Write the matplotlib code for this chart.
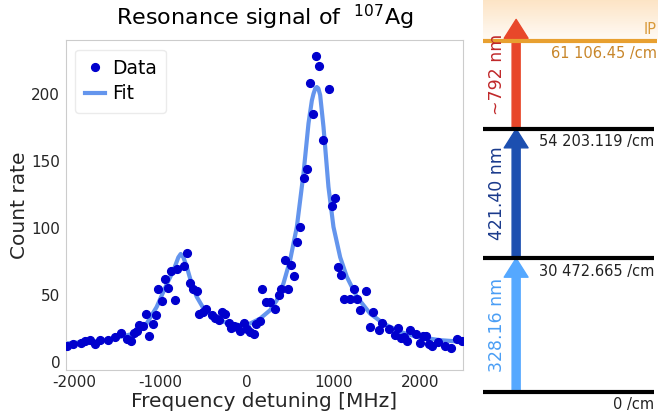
import numpy as np
import matplotlib.pyplot as plt

plt.rcParams['axes.unicode_minus'] = False

# measured resonance data (frequency detuning in MHz, counts)
freq = [-2082, -2012, -1928, -1878, -1820, -1762, -1704, -1608, -1530, -1461,
        -1388, -1347, -1309, -1270, -1247, -1208, -1170, -1131, -1093, -1054,
        -1027, -985, -950, -915, -876, -834, -807, -730, -691, -656,
        -621, -583, -552, -513, -475, -409, -370, -320, -293, -254,
        -215, -184, -149, -118, -80, -41, -2, 37, 75, 106,
        145, 176, 222, 269, 327, 365, 396, 435, 470, 508,
        539, 578, 616, 655, 693, 724, 763, 801, 836, 875,
        944, 983, 1014, 1052, 1091, 1118, 1195, 1234, 1272, 1311,
        1380, 1419, 1454, 1523, 1562, 1639, 1709, 1744, 1782, 1821,
        1852, 1890, 1960, 1998, 2037, 2075, 2102, 2141, 2211, 2288,
        2362, 2431, 2489]
counts = [11.7, 13.2, 14.4, 15.4, 16.2, 13.2, 16.2, 16.2, 18.4, 21.9,
          16.7, 15.4, 21.9, 23.1, 27.4, 26.9, 36.0, 19.4, 28.4, 35.3,
          54.2, 45.3, 61.7, 55.0, 67.9, 46.3, 69.4, 71.4, 81.3, 59.2,
          54.7, 52.7, 36.0, 37.3, 39.6, 34.6, 33.1, 31.1, 37.1, 35.6,
          29.1, 25.1, 27.1, 26.1, 22.9, 29.1, 24.6, 22.6, 20.6, 28.6,
          30.3, 54.0, 44.3, 44.3, 39.6, 50.0, 54.2, 75.9, 54.5, 72.1,
          63.9, 89.6, 100.7, 136.8, 143.8, 208.2, 184.8, 228.4, 220.6, 165.4,
          203.2, 116.2, 122.6, 70.9, 64.9, 47.0, 47.0, 54.0, 47.0, 39.0,
          53.0, 26.1, 37.1, 24.1, 29.1, 24.9, 19.7, 25.1, 17.9, 18.2,
          15.4, 24.1, 21.1, 14.4, 19.2, 19.2, 13.2, 11.7, 14.9, 11.9,
          10.7, 16.7, 15.4]

# fit curve
fit_freq = [-2100, -1626, -1317, -1163, -1047, -931, -854, -796, -769, -738,
            -699, -641, -583, -506, -390, -236, -81, 35, 151, 267,
            344, 421, 498, 576, 653, 711, 750, 769, 790, 807,
            825, 846, 885, 942, 1000, 1078, 1155, 1271, 1425, 1580,
            1773, 1966, 2236, 2507]
fit_counts = [13.7, 16.2, 21.0, 28.6, 41.0, 58.0, 68.0, 78.0, 80.5, 78.0,
              71.0, 58.0, 48.5, 40.0, 33.6, 29.0, 27.4, 28.6, 32.3, 38.6,
              46.0, 58.5, 75.9, 100.7, 140.5, 177.9, 195.0, 200.0, 204.0, 205.0,
              204.0, 199.0, 175.0, 130.6, 100.7, 78.0, 63.4, 48.5, 36.0, 28.6,
              22.4, 18.7, 16.2, 14.9]

# level scheme (schematic heights) and labels
level_pos = [0, 1.01, 1.99]
level_labels = ['0 /cm', '30 472.665 /cm', '54 203.119 /cm']
ip_pos = 2.66
ip_label = '61 106.45 /cm'
steps = ['328.16 nm', '421.40 nm', '~792 nm']
step_colors = ['#55a8ff', '#1c4fb0', '#e8472a']
text_colors = ['#4a9ef5', '#1a3a8c', '#c0282a']

fig = plt.figure(figsize=(6.71, 4.18), dpi=100)

ax = fig.add_axes([0.098, 0.115, 0.592, 0.789])
ax.plot(freq, counts, 'o', color='mediumblue', markersize=5.6, label='Data', zorder=3)
ax.plot(fit_freq, fit_counts, '-', color='cornflowerblue', lw=3, label='Fit', zorder=2)
ax.set_xlim(-2100, 2500)
ax.set_ylim(-6, 240)
ax.set_xticks([-2000, -1000, 0, 1000, 2000])
ax.set_yticks([0, 50, 100, 150, 200])
ax.tick_params(length=0, labelsize=11, colors='#262626', pad=4)
for s in ax.spines.values():
    s.set_color('#cccccc')
ax.set_xlabel('Frequency detuning [MHz]', fontsize=14.5, color='#262626', labelpad=1)
ax.set_ylabel('Count rate', fontsize=14.5, color='#262626', labelpad=2)
ax.set_title('Resonance signal of  $^{107}$Ag', fontsize=16, pad=11)
leg = ax.legend(loc='upper left', fontsize=13.5, handlelength=1.1, markerscale=1.0,
                borderpad=0.5, labelspacing=0.35, handletextpad=0.35)
leg.get_frame().set_edgecolor('#e6e6e6')

# level diagram
ax2 = fig.add_axes([0.7198, 0.0, 0.26, 1.0])
ax2.set_xlim(0, 1)
ax2.set_ylim(-0.2, 2.967)
ax2.axis('off')

grad = np.linspace(0.05, 0.35, 100).reshape(-1, 1)
rgba = np.zeros((100, 1, 4))
rgba[..., 0] = 0.98
rgba[..., 1] = 0.70
rgba[..., 2] = 0.35
rgba[..., 3] = grad
ax2.imshow(rgba, extent=[0, 1.0, ip_pos, 2.967], origin='lower', aspect='auto', zorder=0)

for y, lab in zip(level_pos, level_labels):
    ax2.plot([0, 0.98], [y, y], color='black', lw=3, solid_capstyle='butt', zorder=3)
    ax2.text(0.98, y - 0.04, lab, ha='right', va='top', fontsize=10.5, color='#222222')

ax2.plot([0, 1.0], [ip_pos, ip_pos], color='#e8a030', lw=3, solid_capstyle='butt', zorder=3)
ax2.text(0.995, ip_pos + 0.03, 'IP', ha='right', va='bottom', fontsize=10.5, color='#d99a3a')
ax2.text(0.995, ip_pos - 0.04, ip_label, ha='right', va='top', fontsize=10.5, color='#c8862a')

arrow_ends = [(level_pos[0], level_pos[1]), (level_pos[1], level_pos[2]), (level_pos[2], 2.82)]
for (y0, y1), lab, c, tc in zip(arrow_ends, steps, step_colors, text_colors):
    ax2.annotate('', xy=(0.19, y1), xytext=(0.19, y0),
                 arrowprops=dict(arrowstyle='simple,head_width=0.86,head_length=0.68,tail_width=0.29',
                                 mutation_scale=20, color=c, shrinkA=0, shrinkB=0), zorder=2)
    ax2.text(0.08, (y0 + y1) / 2, lab, rotation=90, ha='center', va='center',
             fontsize=12.5, color=tc)

fig.savefig('out.png', dpi=100)
